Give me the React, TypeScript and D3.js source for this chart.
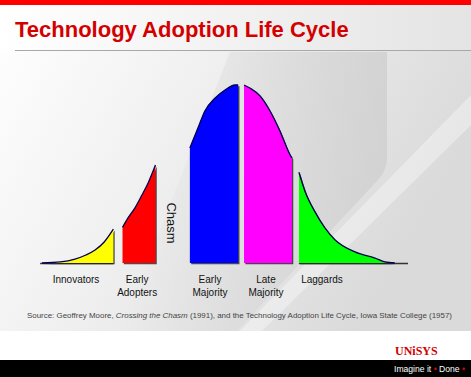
import React from "react";
import * as d3 from "d3";

// ---- data ----
// x: position along the curve's axis (0..100), h: curve height as % of peak
const categories = ["Innovators", "Early Adopters", "Early Majority", "Late Majority", "Laggards"];
const colors = ["#ffff00", "#ff0000", "#0000ff", "#ff00ff", "#00ff00"];
const innovators: [number, number][] = [[0, 0], [5, 0.6], [9, 2.2], [12, 4.5], [14.5, 7.3], [17, 11.8], [19.5, 19]];
const earlyAdopters: [number, number][] = [[22, 20], [23.5, 25.3], [25.4, 31], [27.3, 38.2], [29, 45], [31, 55]];
const earlyMajority: [number, number][] = [[40.4, 64.6], [42.6, 75.8], [44.5, 85.4], [47.3, 92.7], [50, 97.2], [52.7, 100], [53.6, 100]];
const lateMajority: [number, number][] = [[55.2, 100], [56.8, 98.3], [59.6, 93.8], [62.3, 85.4], [65, 74.2], [67.8, 60.7], [68.3, 59]];
const laggards: [number, number][] = [[70.2, 51], [71.9, 40], [74.6, 28.7], [77.3, 19.7], [80.1, 12.9], [85.5, 6.2], [91, 2.8], [93.7, 0.6], [96.4, 0]];
const segments = [innovators, earlyAdopters, earlyMajority, lateMajority, laggards];
const labelLines = [["Innovators"], ["Early", "Adopters"], ["Early", "Majority"], ["Late", "Majority"], ["Laggards"]];
const labelPos = [9.3, 26, 45.9, 61.2, 76.5];

const W = 471, H = 377;

export default function App() {
  const x = d3.scaleLinear().domain([0, 100]).range([42, 408]);
  const y = d3.scaleLinear().domain([0, 100]).range([263, 85]);
  const area = d3.area<[number, number]>().x(d => x(d[0])).y0(y(0)).y1(d => y(d[1])).curve(d3.curveMonotoneX);
  const line = d3.line<[number, number]>().x(d => x(d[0])).y(d => y(d[1])).curve(d3.curveMonotoneX);
  const font = "'Liberation Sans', Arial, sans-serif";
  return (
    <svg width={W} height={H} style={{ position: "absolute", left: 0, top: 0 }} fontFamily={font}>
      <defs>
        <linearGradient id="bg" x1="0" y1="0" x2="1" y2="0.4">
          <stop offset="0" stopColor="#ffffff" />
          <stop offset="0.45" stopColor="#f0f0f0" />
          <stop offset="1" stopColor="#dadada" />
        </linearGradient>
        <linearGradient id="swoosh" x1="0" y1="0" x2="1" y2="0">
          <stop offset="0" stopColor="#d4d4d4" stopOpacity="0" />
          <stop offset="1" stopColor="#cfcfcf" stopOpacity="0.8" />
        </linearGradient>
        <linearGradient id="hdr" x1="0" y1="0" x2="1" y2="0">
          <stop offset="0" stopColor="#ffffff" />
          <stop offset="1" stopColor="#e4e4e4" />
        </linearGradient>
      </defs>
      <rect x={0} y={0} width={W} height={H} fill="#fff" />
      <rect x={0} y={5} width={W} height={326} fill="url(#bg)" />
      <rect x={0} y={5} width={W} height={46} fill="url(#hdr)" />
      <path d="M 230 52 L 387 52 L 387 158 Q 387 170 378 180 L 237 331 L 120 331 Z" fill="url(#swoosh)" />
      <path d="M 471 95 L 471 125 L 262 331 L 240 331 Z" fill="#ffffff" opacity={0.35} />
      <rect x={0} y={0} width={W} height={5} fill="#ff0000" />
      <text x={15} y={37} fontSize={22} fontWeight="bold" fill="#d40000">Technology Adoption Life Cycle</text>
      <line x1={15} x2={W} y1={50.5} y2={50.5} stroke="#a8a8a8" strokeWidth={1} />

      {/* baseline extensions */}
      <line x1={x(-0.5)} x2={x(innovators[innovators.length - 1][0])} y1={y(0) + 0.5} y2={y(0) + 0.5} stroke="#333" strokeWidth={1.6} />
      <line x1={x(laggards[0][0])} x2={x(100)} y1={y(0) + 0.5} y2={y(0) + 0.5} stroke="#333" strokeWidth={1.6} />

      {segments.map((seg, i) => (
        <g key={i}>
          <path d={area(seg) || ""} fill="#222" opacity={0.8} transform="translate(1.3,1.3)" />
          <path d={area(seg) || ""} fill={colors[i]} />
          <path d={line(seg) || ""} fill="none" stroke="#000050" strokeWidth={1.3} />
        </g>
      ))}

      {labelLines.map((lines, i) => (
        <text key={i} x={x(labelPos[i])} y={283} fontSize={10} fill="#111" textAnchor="middle">
          {lines.map((l, j) => (
            <tspan key={j} x={x(labelPos[i])} dy={j === 0 ? 0 : 12.5}>{l}</tspan>
          ))}
        </text>
      ))}
      <text transform="translate(167,223) rotate(90)" fontSize={13} fill="#111" textAnchor="middle">Chasm</text>

      <text x={27} y={318} fontSize={8} fill="#444" textLength={425} lengthAdjust="spacingAndGlyphs">
        Source: Geoffrey Moore, <tspan fontStyle="italic">Crossing the Chasm</tspan> (1991), and the Technology Adoption Life Cycle, Iowa State College (1957)
      </text>

      <rect x={0} y={360} width={W} height={17} fill="#000" />
      <text x={395} y={355} fontSize={12} fontWeight="bold" fontFamily="'Liberation Serif', serif" fill="#d00000">UNiSYS</text>
      <text x={394} y={372} fontSize={8.6} fill="#fff">
        Imagine it<tspan fill="#e00000"> •</tspan> Done<tspan fill="#e00000"> •</tspan>
      </text>
    </svg>
  );
}
